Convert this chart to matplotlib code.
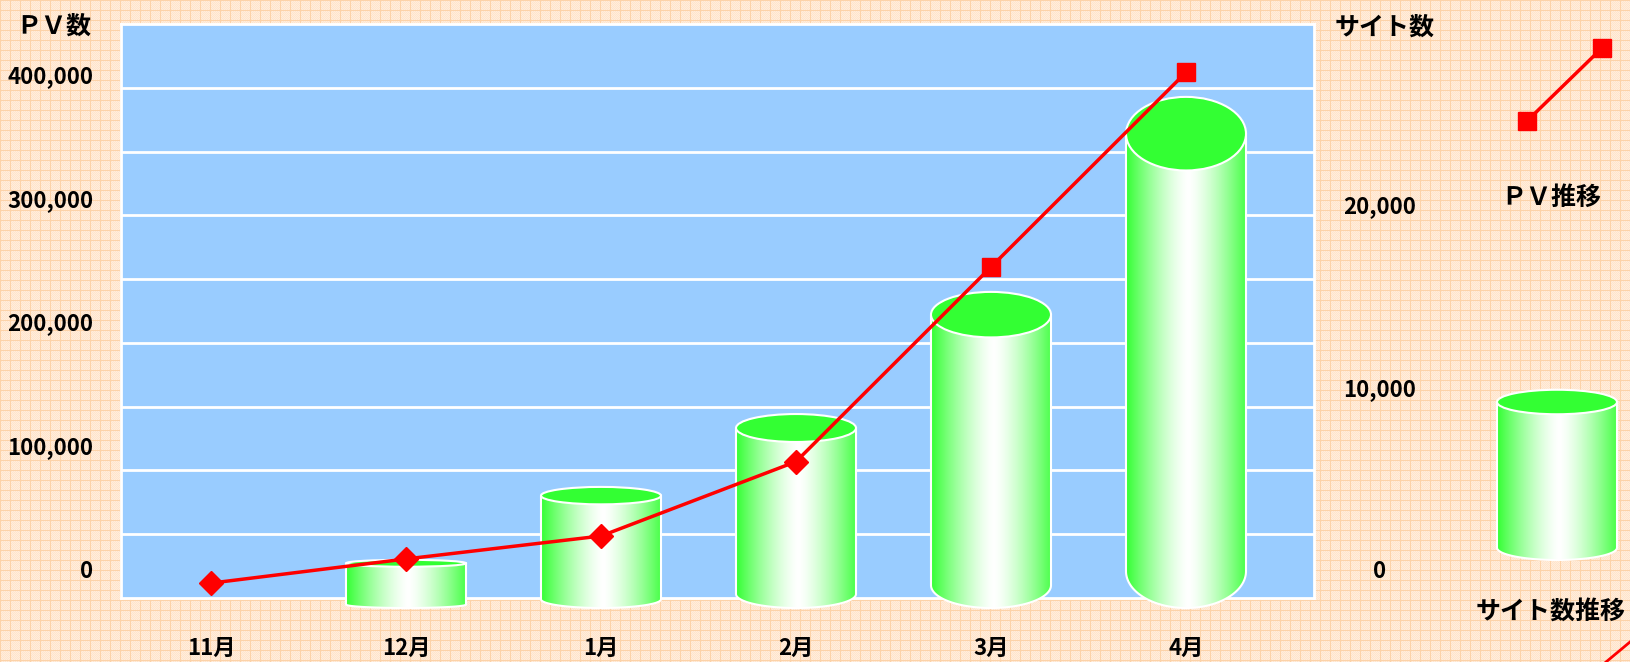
"""PV / site count chart with cylinder bars on graph-paper background."""

import matplotlib

matplotlib.use("Agg")

import matplotlib.pyplot as plt
import numpy as np
from matplotlib import transforms as mtransforms
from matplotlib.patches import Ellipse, PathPatch
from matplotlib.path import Path

plt.rcParams["font.family"] = ["Noto Sans CJK JP", "DejaVu Sans"]

months = ["11月", "12月", "1月", "2月", "3月", "4月"]
pv = [12000, 31500, 50000, 110000, 267000, 424000]
sites = [0, 1900, 5600, 9300, 15500, 25400]
pv_ticks = [0, 100000, 200000, 300000, 400000]
site_ticks = [0, 10000, 20000]
pv_markers = ["D", "D", "D", "D", "s", "s"]

W, H, DPI = 1630, 662, 100
L, R, T, B = 121, 1314, 24, 598  # plot area in pixels (y from top)
PV_TOP = 463000
SITE_TOP = 31400
RED = "#FF0000"
GREEN = np.array([0x33, 0xFF, 0x33]) / 255


def paper_texture(h, w):
    yy, xx = np.mgrid[0:h, 0:w]
    img = np.empty((h, w, 3))
    img[:] = np.array([255, 237, 220]) / 255
    img[(xx + yy) % 2 == 0] = np.array([255, 228, 203]) / 255
    img[(xx % 10 == 0) | (yy % 10 == 0)] = np.array([252, 210, 168]) / 255
    return img


def draw_cylinder(ax, xc, half_w, base, top_center, ratio=0.072, lw=1.5):
    """Cylinder whose lowest point is `base` and top ellipse centre is `top_center`."""
    top_edge = (top_center - ratio * base) / (1 - ratio)
    h = ratio * (top_edge - base)
    yb = base + h
    t = np.linspace(np.pi, 2 * np.pi, 80)
    arc = np.column_stack([xc + half_w * np.cos(t), yb + h * np.sin(t)])
    verts = np.vstack([[xc - half_w, top_center], arc,
                       [xc + half_w, top_center], [xc - half_w, top_center]])
    body = PathPatch(Path(verts), facecolor="none", edgecolor="white",
                     lw=lw, zorder=2, clip_on=False)
    ax.add_patch(body)

    tt = np.linspace(0, 1, 300)
    wmix = np.clip(1 - (np.abs(tt - 0.52) / 0.52) ** 1.4, 0, 1)
    grad = GREEN[None, :] * (1 - wmix[:, None]) + wmix[:, None]
    im = ax.imshow(grad[None, :, :], extent=[xc - half_w, xc + half_w, base, top_center],
                   aspect="auto", zorder=1, interpolation="bilinear")
    im.set_clip_box(ax.figure.bbox)
    im.set_clip_path(body)

    ax.add_patch(Ellipse((xc, top_center), 2 * half_w, 2 * h, facecolor=GREEN,
                         edgecolor="white", lw=lw, zorder=3, clip_on=False))


fig = plt.figure(figsize=(W / DPI, H / DPI), dpi=DPI)
fig.figimage(paper_texture(H, W), xo=0, yo=0, zorder=-10)

x = np.arange(len(months))
step = 195.0  # pixels per category
x0 = 211.0    # pixel centre of first category

ax = fig.add_axes([L / W, 1 - B / H, (R - L) / W, (B - T) / H])
ax.set_facecolor("#99CCFF")
ax.set_xlim((L - x0) / step, (R - x0) / step)
ax.set_ylim(0, 9)
ax.set_yticks(range(1, 9))
ax.set_xticks(x)
ax.yaxis.grid(True, color="white", lw=2)
ax.set_axisbelow(True)
for sp in ax.spines.values():
    sp.set_color("white")
    sp.set_linewidth(2)

# site count (cylinders)
ax_site = ax.twinx()
ax_site.set_ylim(0, SITE_TOP)
px_per_site = (B - T) / SITE_TOP
half_w = 60 / step
base = -10 / px_per_site
for xi, v in zip(x, sites):
    if v > 0:
        draw_cylinder(ax_site, xi, half_w, base, v)
ax_site.set_xlim(ax.get_xlim())
ax_site.set_ylim(0, SITE_TOP)

# page views (line)
ax_pv = ax.twinx()
ax_pv.set_ylim(0, PV_TOP)
ax_pv.plot(x, pv, color=RED, lw=2.5, zorder=2, clip_on=False)
for xi, v, m in zip(x, pv, pv_markers):
    ax_pv.plot(xi, v, marker=m, color=RED, ms=12 if m == "D" else 13,
               zorder=3, clip_on=False)

# twinx re-enables the left ticks of the base axes, so hide everything here
for a in (ax, ax_site, ax_pv):
    a.tick_params(left=False, labelleft=False, right=False, labelright=False,
                  bottom=False, labelbottom=False)
for a in (ax_site, ax_pv):
    for sp in a.spines.values():
        sp.set_visible(False)

# month labels
tr_month = mtransforms.blended_transform_factory(ax.transData, fig.transFigure)
for xi, m in zip(x, months):
    ax.text(xi, 1 - 648 / H, m, transform=tr_month, ha="center", va="center",
            fontsize=16, fontweight="bold")

# axis value labels (sit slightly above their values, as in the original)
lab_kw = dict(fontsize=16, fontweight="bold", va="center")
tr_pv = mtransforms.offset_copy(
    mtransforms.blended_transform_factory(ax_pv.transAxes, ax_pv.transData),
    fig=fig, x=-28, y=26, units="dots")
for v in pv_ticks:
    ax_pv.text(0, v, f"{v:,}", transform=tr_pv, ha="right", **lab_kw)
tr_site = mtransforms.offset_copy(
    mtransforms.blended_transform_factory(ax_site.transAxes, ax_site.transData),
    fig=fig, x=66, y=26, units="dots")
for v in site_ticks:
    ax_site.text(1, v, f"{v:,}", transform=tr_site, ha="center", **lab_kw)

# overlay in pixel coordinates for titles and legend
ov = fig.add_axes([0, 0, 1, 1])
ov.axis("off")
ov.patch.set_visible(False)

head_kw = dict(fontsize=18, fontweight="bold", ha="center", va="center")
ov.text(54, H - 27, "ＰＶ数", **head_kw)
ov.text(1385, H - 28, "サイト数", **head_kw)
ov.text(1551, H - 198, "ＰＶ推移", **head_kw)
ov.text(1551, H - 612, "サイト数推移", **head_kw)

ov.plot([1527, 1602], [H - 121, H - 48], color=RED, lw=2.5, marker="s", ms=13)
draw_cylinder(ov, 1557, 60, H - 560, H - 402)
ov.plot([1606, 1630], [0, 20], color=RED, lw=2)
ov.set_xlim(0, W)
ov.set_ylim(0, H)

fig.savefig("out.png", dpi=DPI)
